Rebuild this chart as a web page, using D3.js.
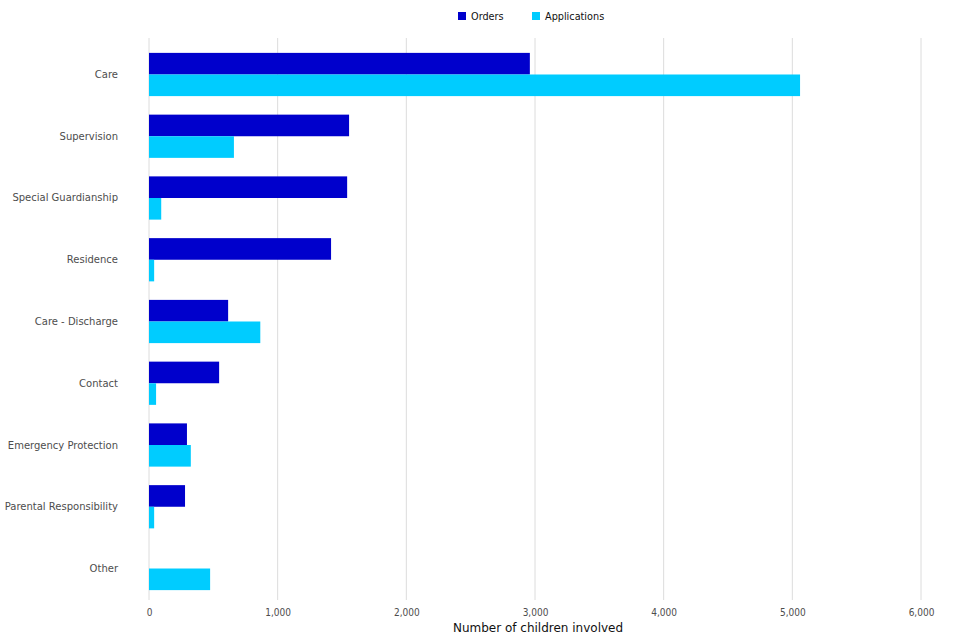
<!DOCTYPE html>
<html>
<head>
<meta charset="utf-8">
<script src="https://cdn.jsdelivr.net/npm/d3@7"></script>
<style>
  body { margin: 0; background: #fff; }
  svg { display: block; font-family: "DejaVu Sans", sans-serif; }
</style>
</head>
<body>
<div id="chart"></div>
<script>
// Order types and number of children involved
const categories = ['Care', 'Supervision', 'Special Guardianship', 'Residence', 'Care - Discharge',
  'Contact', 'Emergency Protection', 'Parental Responsibility', 'Other'];
const orders = [2960, 1555, 1540, 1415, 615, 545, 295, 280, 0];
const applications = [5060, 660, 95, 40, 865, 55, 325, 40, 475];
const seriesNames = ['Orders', 'Applications'];
const xTicks = [0, 1000, 2000, 3000, 4000, 5000, 6000];

const width = 960, height = 640;
const margin = { top: 38, right: 39, bottom: 40, left: 149 };
const colors = ['#0000cc', '#00ccff'];

const svg = d3.select('#chart')
  .append('svg')
  .attr('width', width)
  .attr('height', height);

const x = d3.scaleLinear()
  .domain([0, 6000])
  .range([margin.left, width - margin.right]);

const y = d3.scaleBand()
  .domain(categories)
  .range([43, height - margin.bottom])
  .paddingInner(0.3)
  .paddingOuter(0.16);

const ySub = d3.scaleBand()
  .domain(seriesNames)
  .range([0, y.bandwidth()]);

// Gridlines
svg.append('g')
  .selectAll('line')
  .data(xTicks)
  .join('line')
  .attr('x1', d => x(d))
  .attr('x2', d => x(d))
  .attr('y1', margin.top)
  .attr('y2', height - margin.bottom)
  .attr('stroke', '#dcdcdc')
  .attr('stroke-width', 1);

// Bars
const rows = categories.map((c, i) => ({ c, values: [orders[i], applications[i]] }));

const group = svg.append('g')
  .selectAll('g')
  .data(rows)
  .join('g')
  .attr('transform', d => `translate(0,${y(d.c)})`);

group.selectAll('rect')
  .data(d => d.values.map((v, j) => ({ key: seriesNames[j], v, j })))
  .join('rect')
  .attr('x', x(0))
  .attr('y', d => ySub(d.key))
  .attr('width', d => x(d.v) - x(0))
  .attr('height', ySub.bandwidth())
  .attr('fill', d => colors[d.j]);

// Category labels
svg.append('g')
  .selectAll('text')
  .data(categories)
  .join('text')
  .attr('x', 118)
  .attr('y', d => y(d) + y.bandwidth() / 2)
  .attr('dy', '0.35em')
  .attr('text-anchor', 'end')
  .attr('font-size', '10px')
  .attr('fill', '#4d4d4d')
  .text(d => d);

// X axis tick labels
const xAxis = d3.axisBottom(x)
  .tickValues(xTicks)
  .tickFormat(d3.format(','))
  .tickSize(0)
  .tickPadding(0);

const axisG = svg.append('g')
  .attr('transform', `translate(0,${height - margin.bottom + 9})`)
  .call(xAxis);
axisG.select('.domain').remove();
axisG.selectAll('text')
  .attr('font-size', '10px')
  .attr('font-family', '"DejaVu Sans Condensed", "DejaVu Sans", sans-serif')
  .attr('fill', '#4d4d4d');

// Axis title
svg.append('text')
  .attr('x', (x(0) + x(6000)) / 2 + 3)
  .attr('y', 632)
  .attr('text-anchor', 'middle')
  .attr('font-size', '12px')
  .attr('fill', '#111')
  .text('Number of children involved');

// Legend
const legendX = [458, 532];
const legend = svg.append('g');
seriesNames.forEach((name, i) => {
  legend.append('rect')
    .attr('x', legendX[i])
    .attr('y', 12)
    .attr('width', 8)
    .attr('height', 8)
    .attr('fill', colors[i]);
  legend.append('text')
    .attr('x', legendX[i] + 13)
    .attr('y', 17)
    .attr('dy', '0.35em')
    .attr('font-size', '9.7px')
    .attr('fill', '#111')
    .text(name);
});
</script>
</body>
</html>
